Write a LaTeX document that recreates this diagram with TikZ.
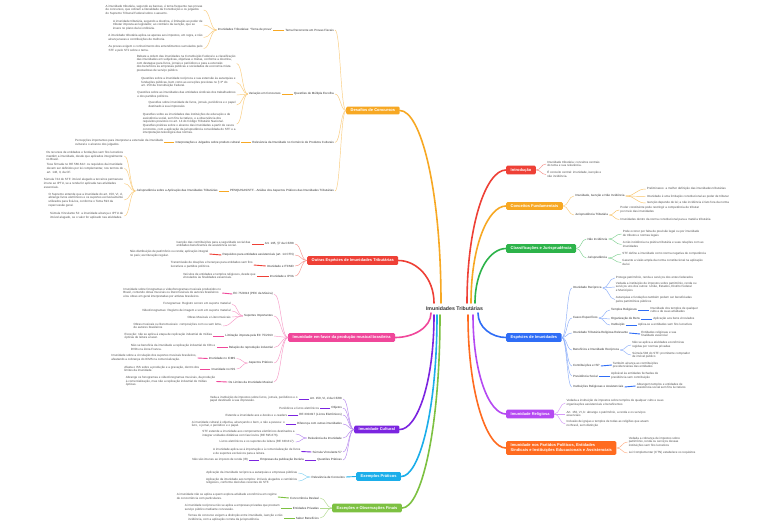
\documentclass[tikz,border=0pt]{standalone}
\usepackage{fontspec}
\setmainfont{Liberation Sans}
\usetikzlibrary{calc}
\definecolor{cR}{HTML}{EE4036}
\definecolor{cO}{HTML}{F7A823}
\definecolor{cG}{HTML}{2DB34A}
\definecolor{cB}{HTML}{2F6DF6}
\definecolor{cP}{HTML}{B549F2}
\definecolor{cV}{HTML}{7B24E0}
\definecolor{cK}{HTML}{F0479A}
\definecolor{cA}{HTML}{FF6B1F}
\definecolor{cC}{HTML}{1BAEEA}
\definecolor{cL}{HTML}{7DC142}
\definecolor{tx}{HTML}{505050}
\definecolor{tx2}{HTML}{333333}
\newcommand\MyL[5]{\node[#1,anchor=east] (#2) at ($(#3.west |- 0,#4)+(-#5,0)$)}
\newcommand\MyR[5]{\node[#1,anchor=west] (#2) at ($(#3.east |- 0,#4)+(#5,0)$)}
\begin{document}
\begin{tikzpicture}[x=1pt,y=-1pt,
 txt/.style={font=\fontsize{3}{3.6}\selectfont, text=tx, inner sep=1pt, align=left},
 lbl/.style={txt, text=tx2},
 box/.style={rounded corners=1.3pt, text=white, font=\bfseries\fontsize{4}{4.8}\selectfont, inner xsep=4.5pt, inner ysep=2.5pt, align=left},
 bracket/.style={to path={.. controls ($(\tikztostart)!0.5!(\tikztostart-|\tikztotarget)$) and ($(\tikztotarget)!0.5!(\tikztotarget-|\tikztostart)$) .. (\tikztotarget)}},
 fan/.style={line width=0.45pt, bracket},
 lnk/.style={line width=0.9pt, bracket},
 mainc/.style={line width=1.6pt, line cap=round, to path={.. controls ($(\tikztostart)!0.6!(\tikztostart|-\tikztotarget)$) and ($(\tikztotarget)!0.5!(\tikztostart|-\tikztotarget)$) .. (\tikztotarget)}}]
\fill[white] (0,0) rectangle (768,528);
\path[use as bounding box] (0,0) rectangle (768,528);

% ---------- centre
\node[font=\bfseries\fontsize{5.2}{6}\selectfont,text=tx2] (root) at (454.5,309) {Imunidades Tributárias};
\coordinate (sDes) at (441,303);
\coordinate (sOes) at (434,303);
\coordinate (sMus) at (431,313);
\coordinate (sCul) at (434,315);
\coordinate (sExe) at (437,315);
\coordinate (sExc) at (440,315);
\coordinate (sInt) at (467,303);
\coordinate (sCon) at (471,303);
\coordinate (sCla) at (475,303);
\coordinate (sEsp) at (478,313);
\coordinate (sPar) at (468,315);
\coordinate (sRel) at (473,315);

% ---------- main boxes
\node[box,fill=cR,anchor=west] (intro) at (506,170) {Introdução};
\node[box,fill=cO,anchor=west] (conc) at (506,206) {Conceitos Fundamentais};
\node[box,fill=cG,anchor=west] (clas) at (506,248.5) {Classificações e Jurisprudência};
\node[box,fill=cB,anchor=west] (esp) at (506,337.5) {Espécies de Imunidades};
\node[box,fill=cP,anchor=west] (rel) at (506,414) {Imunidade Religiosa};
\node[box,fill=cA,anchor=west] (part) at (506,448) {Imunidade nos Partidos Políticos, Entidades\\Sindicais e Instituições Educacionais e Assistenciais};
\node[box,fill=cO,anchor=west] (des) at (346,110.5) {Desafios de Concursos};
\node[box,fill=cR,anchor=west] (oes) at (307,260.5) {Outras Espécies de Imunidades Tributárias};
\node[box,fill=cK,anchor=west] (mus) at (288,337.5) {Imunidade em favor da produção musical brasileira};
\node[box,fill=cV,anchor=west] (cul) at (354,429.5) {Imunidade Cultural};
\node[box,fill=cC,anchor=west] (exe) at (356,476.5) {Exemplos Práticos};
\node[box,fill=cL,anchor=west] (exc) at (332,508) {Exceções e Observações Finais};

\draw[mainc,cO] (sDes) to (des.east);
\draw[mainc,cR] (sOes) to (oes.east);
\draw[mainc,cK] (sMus) to (mus.east);
\draw[mainc,cV] (sCul) to (cul.east);
\draw[mainc,cC] (sExe) to (exe.east);
\draw[mainc,cL] (sExc) to (exc.east);
\draw[mainc,cR] (sInt) to (intro.west);
\draw[mainc,cO] (sCon) to (conc.west);
\draw[mainc,cG] (sCla) to (clas.west);
\draw[mainc,cB] (sEsp) to (esp.west);
\draw[mainc,cA] (sPar) to (part.west);
\draw[mainc,cP] (sRel) to (rel.west);

% ================= RIGHT SIDE =================
% Introducao
\MyR{txt}{i1}{intro}{164}{10}{Imunidade tributária: conceitos centrais\\do tema e sua relevância.};
\MyR{txt}{i2}{intro}{174.5}{10}{É conceito central: imunidade, isenção e\\não incidência.};
\foreach \q in {i1,i2} \draw[fan,cR!60] (intro.east) to[bracket] (\q.west);

% Conceitos
\MyR{lbl}{c1}{conc}{196}{11}{Imunidade, Isenção e Não Incidência};
\MyR{lbl}{c2}{conc}{215}{11}{Jurisprudência Tributária};
\MyR{txt}{c1a}{c1}{189}{20}{Preliminares: a melhor definição das imunidades tributárias};
\MyR{txt}{c1b}{c1}{196.5}{20}{Imunidade é uma limitação constitucional ao poder de tributar};
\MyR{txt}{c1c}{c1}{203}{20}{Isenção depende de lei; a não incidência é fato fora da norma};
\MyR{txt}{c2a}{c2}{210}{10}{Poder constituinte pode restringir a competência de tributar\\por meio das imunidades};
\MyR{txt}{c2b}{c2}{219.5}{10}{Imunidades dentro da norma constitucional para a matéria tributária};
\foreach \q in {c1,c2} \draw[fan,cO!60] (conc.east) to[bracket] (\q.west);
\foreach \q in {c1a,c1b,c1c} \draw[fan,cO!70] (c1.east) to[bracket] (\q.west);
\foreach \q in {c2a,c2b} \draw[fan,cO!70] (c2.east) to[bracket] (\q.west);

% Classificacoes
\MyR{lbl}{k1}{clas}{239}{10}{Não Incidência};
\MyR{lbl}{k2}{clas}{258}{10}{Jurisprudência};
\MyR{txt}{k1a}{k1}{234}{13}{Pode ocorrer por falta de previsão legal ou por imunidade\\de tributos e normas legais};
\MyR{txt}{k1b}{k1}{244.5}{13}{A não incidência na prática tributária e suas relações com as\\imunidades};
\MyR{txt}{k2a}{k2}{254}{13}{STF define a imunidade como norma negativa de competência};
\MyR{txt}{k2b}{k2}{262.5}{13}{Garante a visão ampla da norma constitucional na aplicação\\da lei};
\foreach \q in {k1,k2} \draw[fan,cG!60] (clas.east) to[bracket] (\q.west);
\foreach \q in {k1a,k1b} \draw[fan,cG!60] (k1.east) to[bracket] (\q.west);
\foreach \q in {k2a,k2b} \draw[fan,cG!60] (k2.east) to[bracket] (\q.west);

% Especies
\MyR{lbl}{e1}{esp}{288}{10}{Imunidade Recíproca};
\MyR{lbl}{e2}{esp}{318}{10}{Casos Específicos};
\MyR{lbl}{e3}{esp}{333}{10}{Imunidade Tributária Religiosa Relevante};
\MyR{lbl}{e4}{esp}{350}{10}{Benefícios e Imunidade Recíproca};
\MyR{lbl}{e5}{esp}{366}{10}{Contribuições e ISP};
\MyR{lbl}{e6}{esp}{376}{10}{Previdência Social};
\MyR{lbl}{e7}{esp}{387}{10}{Instituições Religiosas e Assistenciais};
\MyR{txt}{e1a}{e1}{278}{12}{Protege patrimônio, renda e serviços dos entes federados};
\MyR{txt}{e1b}{e1}{287}{12}{Vedada a instituição de impostos sobre patrimônio, renda ou\\serviços uns dos outros: União, Estados, Distrito Federal\\e Municípios};
\MyR{txt}{e1c}{e1}{299.5}{12}{Autarquias e fundações também podem ser beneficiadas\\pelos patrimônios públicos};
\MyR{lbl}{e2a}{e2}{310}{11}{Templos Religiosos};
\MyR{lbl}{e2b}{e2}{319}{11}{Organização de Bens};
\MyR{lbl}{e2c}{e2}{325}{11}{Instituição};
\MyR{txt}{e2at}{e2a}{310}{11}{Imunidade dos templos de qualquer\\culto e de suas atividades};
\MyR{txt}{e2bt}{e2b}{319}{11}{Aplicação aos bens vinculados};
\MyR{txt}{e2ct}{e2c}{325}{11}{Aplica-se a entidades sem fins lucrativos};
\MyR{txt}{e3t}{e3}{334}{11}{Entidades religiosas e sua\\finalidade essencial};
\MyR{txt}{e4a}{e4}{345}{11}{Não se aplica a atividades econômicas\\regidas por normas privadas};
\MyR{txt}{e4b}{e4}{355}{11}{Súmula 583 do STF: promitente comprador\\de imóvel público};
\MyR{txt}{e5t}{e5}{365}{11}{Também alcança as contribuições\\previdenciárias das entidades};
\MyR{txt}{e6t}{e6}{376}{11}{Aplicável às entidades fechadas de\\previdência sem contribuição};
\MyR{txt}{e7t}{e7}{386}{11}{Abrangem templos e entidades de\\assistência social sem fins lucrativos};
\foreach \q in {e1,e2,e3,e4,e5,e6,e7} \draw[fan,cB!55] (esp.east) to[bracket] (\q.west);
\foreach \q in {e1a,e1b,e1c} \draw[fan,cB!55] (e1.east) to[bracket] (\q.west);
\foreach \q in {e2a,e2b,e2c} \draw[fan,cB!55] (e2.east) to[bracket] (\q.west);
\foreach \q in {e4a,e4b} \draw[fan,cB!55] (e4.east) to[bracket] (\q.west);
\draw[lnk,cB] (e2a.east) to[bracket] (e2at.west);
\draw[lnk,cB] (e2b.east) to[bracket] (e2bt.west);
\draw[lnk,cB] (e2c.east) to[bracket] (e2ct.west);
\draw[lnk,cB] (e3.east) to[bracket] (e3t.west);
\draw[lnk,cB] (e5.east) to[bracket] (e5t.west);
\draw[lnk,cB] (e6.east) to[bracket] (e6t.west);
\draw[lnk,cB] (e7.east) to[bracket] (e7t.west);

% Religiosa
\MyR{txt}{r1}{rel}{403}{11}{Vedada a instituição de impostos sobre templos de qualquer culto e suas\\organizações assistenciais e beneficentes};
\MyR{txt}{r2}{rel}{414}{11}{Art. 150, VI, b: abrange o patrimônio, a renda e os serviços\\essenciais};
\MyR{txt}{r3}{rel}{424}{11}{Inclusão de igrejas e templos de todas as religiões que atuam\\no Brasil, sem distinção};
\foreach \q in {r1,r2,r3} \draw[fan,cP!55] (rel.east) to[bracket] (\q.west);

% Partidos
\MyR{txt}{p1}{part}{442}{11}{Vedada a cobrança de impostos sobre\\patrimônio, renda ou serviços dessas\\instituições sem fins lucrativos};
\MyR{txt}{p2}{part}{453}{11}{Lei Complementar (CTN) estabelece os requisitos};
\foreach \q in {p1,p2} \draw[fan,cA!55] (part.east) to[bracket] (\q.west);

% ================= LEFT SIDE =================
% Desafios
\MyL{lbl}{d1}{des}{30}{11}{Tema Recorrente em Provas Fiscais};
\MyL{lbl}{d2}{des}{94}{11}{Questões de Múltipla Escolha};
\MyL{lbl}{d3}{des}{142.5}{11}{Relevância da Imunidade no Comércio de Produtos Culturais};
\MyL{lbl}{d4}{des}{191}{11}{PESQUISAS/STF - Análise dos Aspectos Práticos das Imunidades Tributárias};
\MyL{lbl}{d1a}{d1}{30}{11}{Imunidades Tributárias: “Tema de prova”};
\MyL{txt}{t1}{d1a}{10}{13}{A imunidade tributária, segundo as bancas, é tema frequente nas provas\\de concursos, que cobram a literalidade da Constituição e os julgados\\do Supremo Tribunal Federal sobre o assunto.};
\MyL{txt}{t2}{d1a}{25}{13}{A imunidade tributária, segundo a doutrina, é limitação ao poder de\\tributar imposta ao legislador, ao contrário da isenção, que se\\insere no plano da lei ordinária.};
\MyL{txt}{t3}{d1a}{37.5}{13}{A imunidade tributária aplica-se apenas aos impostos, em regra, e não\\alcança taxas e contribuições de melhoria.};
\MyL{txt}{t4}{d1a}{48.5}{13}{As provas exigem o conhecimento dos entendimentos sumulados pelo\\STF e pelo STJ sobre o tema.};
\MyL{lbl}{d2a}{d2}{94}{11}{Variação em Concursos};
\MyL{txt}{v1}{d2a}{63.5}{11}{Debate a ordem das imunidades na Constituição Federal e a classificação\\das imunidades em subjetivas, objetivas e mistas, conforme a doutrina,\\com destaque para livros, jornais e periódicos e para a extensão\\dos benefícios às empresas públicas e sociedades de economia mista\\prestadoras de serviço público.};
\MyL{txt}{v2}{d2a}{82.5}{11}{Questões sobre a imunidade recíproca e sua extensão às autarquias e\\fundações públicas, bem como as exceções previstas no § 3º do\\art. 150 da Constituição Federal.};
\MyL{txt}{v3}{d2a}{95}{11}{Questões sobre as imunidades das entidades sindicais dos trabalhadores\\e dos partidos políticos.};
\MyL{txt}{v4}{d2a}{105}{11}{Questões sobre imunidade de livros, jornais, periódicos e o papel\\destinado à sua impressão.};
\MyL{txt}{v5}{d2a}{124}{11}{Questões sobre as imunidades das instituições de educação e de\\assistência social, sem fins lucrativos, e a observância dos\\requisitos previstos no art. 14 do Código Tributário Nacional.\\Questões práticas sobre o alcance das imunidades a partir de casos\\concretos, com a aplicação da jurisprudência consolidada do STF e a\\interpretação teleológica das normas.};
\MyL{lbl}{d3a}{d3}{142.5}{10}{Interpretações e Julgados sobre produto cultural};
\MyL{txt}{d3b}{d3a}{142.5}{10}{Percepções importantes para interpretar a extensão da imunidade\\cultural e o alcance dos julgados.};
\MyL{lbl}{d4a}{d4}{191}{10}{Jurisprudência sobre a Aplicação das Imunidades Tributárias};
\MyL{txt}{j1}{d4a}{156}{11}{Os recursos de entidades e fundações sem fins lucrativos\\mantêm a imunidade, desde que aplicados integralmente\\no Brasil.};
\MyL{txt}{j2}{d4a}{168.5}{11}{Tese firmada no RE 566.622: os requisitos da imunidade\\devem ser definidos por lei complementar, nos termos do\\art. 146, II, da CF.};
\MyL{txt}{j3}{d4a}{183.5}{11}{Súmula 724 do STF: imóvel alugado a terceiros permanece\\imune ao IPTU, se a renda for aplicada nas atividades\\essenciais.};
\MyL{txt}{j4}{d4a}{200}{11}{O Supremo entende que a imunidade do art. 150, VI, d,\\abrange livros eletrônicos e os suportes exclusivamente\\utilizados para fixá-los, conforme o Tema 593 da\\repercussão geral.};
\MyL{txt}{j5}{d4a}{216}{11}{Súmula Vinculante 52: a imunidade alcança o IPTU de\\imóvel alugado, se o valor for aplicado nas atividades.};
\foreach \q in {d1,d2,d3,d4} \draw[fan,cO!60] (des.west) to[bracket] (\q.east);
\draw[lnk,cO] (d1.west) to[bracket] (d1a.east);
\draw[lnk,cO] (d2.west) to[bracket] (d2a.east);
\draw[lnk,cO] (d3.west) to[bracket] (d3a.east);
\draw[lnk,cO] (d3a.west) to[bracket] (d3b.east);
\draw[lnk,cO] (d4.west) to[bracket] (d4a.east);
\foreach \q in {t1,t2,t3,t4} \draw[fan,cO!60] (d1a.west) to[bracket] (\q.east);
\foreach \q in {v1,v2,v3,v4,v5} \draw[fan,cO!60] (d2a.west) to[bracket] (\q.east);
\foreach \q in {j1,j2,j3,j4,j5} \draw[fan,cO!60] (d4a.west) to[bracket] (\q.east);

% Outras especies
\MyL{lbl}{o1}{oes}{244}{12}{Art. 195, §7 da CF/88};
\MyL{lbl}{o2}{oes}{255}{12}{Requisitos para entidades assistenciais (art. 14 CTN)};
\MyL{lbl}{o3}{oes}{266}{12}{Imunidade e ITCMD};
\MyL{lbl}{o4}{oes}{276}{12}{Imunidade e IPVA};
\MyL{txt}{o1t}{o1}{244}{12}{Isenção das contribuições para a seguridade social das\\entidades beneficentes de assistência social.};
\MyL{txt}{o2t}{o2}{254}{12}{Não distribuição de patrimônio ou renda; aplicação integral\\no país; escrituração regular.};
\MyL{txt}{o3t}{o3}{265}{12}{Transmissão de doações e heranças para entidades sem fins\\lucrativos e partidos políticos.};
\MyL{txt}{o4t}{o4}{276}{12}{Veículos de entidades e templos religiosos, desde que\\vinculados às finalidades essenciais.};
\foreach \q in {o1,o2,o3,o4} \draw[fan,cR!55] (oes.west) to[bracket] (\q.east);
\foreach \q in {o1,o2,o3,o4} \draw[lnk,cR] (\q.west) to[bracket] (\q t.east);

% Producao musical
\MyL{lbl}{m1}{mus}{294}{14}{EC 75/2013 (PEC da Música)};
\MyL{lbl}{m2}{mus}{316}{14}{Suportes Importantes};
\MyL{lbl}{m3}{mus}{336}{14}{Limitação imposta pela EC 75/2013};
\MyL{lbl}{m4}{mus}{347.5}{14}{Relação de reprodução industrial};
\MyL{lbl}{m5}{mus}{363}{14}{Aspectos Práticos};
\MyL{lbl}{m6}{mus}{382}{14}{Os Limites da Imunidade Musical};
\MyL{txt}{m1t}{m1}{293}{10}{Imunidade sobre fonogramas e videofonogramas musicais produzidos no\\Brasil, contendo obras musicais ou literomusicais de autores brasileiros\\e/ou obras em geral interpretadas por artistas brasileiros.};
\MyL{txt}{m2a}{m2}{304}{11}{Fonogramas: Registro sonoro em suporte material};
\MyL{txt}{m2b}{m2}{311}{11}{Videofonogramas: Registro de imagem e som em suporte material};
\MyL{txt}{m2c}{m2}{317}{11}{Obras Musicais e Literomusicais};
\MyL{txt}{m2d}{m2}{326}{20}{Obras musicais ou literomusicais: composições com ou sem letra,\\de autores brasileiros};
\MyL{txt}{m3t}{m3}{336}{11}{Exceção: não se aplica à etapa de replicação industrial de mídias\\ópticas de leitura a laser.};
\MyL{txt}{m4t}{m4}{347.5}{11}{Não se beneficia da imunidade a replicação industrial de CDs e\\DVDs na Zona Franca.};
\MyL{lbl}{m5a}{m5}{358.5}{11}{Imunidade no ICMS};
\MyL{lbl}{m5b}{m5}{369}{11}{Imunidade no ISS};
\MyL{txt}{m5at}{m5a}{358}{10}{Imunidade sobre a circulação dos suportes musicais brasileiros,\\afastando a cobrança do ICMS na comercialização.};
\MyL{txt}{m5bt}{m5b}{369}{10}{Afasta o ISS sobre a produção e a gravação, dentro dos\\limites da imunidade.};
\MyL{txt}{m6t}{m6}{381.5}{11}{Abrange os fonogramas e videofonogramas musicais, da produção\\à comercialização, mas não a replicação industrial de mídias\\ópticas.};
\foreach \q in {m1,m2,m3,m4,m5,m6} \draw[fan,cK!55] (mus.west) to[bracket] (\q.east);
\foreach \q in {m2a,m2b,m2c,m2d} \draw[fan,cK!55] (m2.west) to[bracket] (\q.east);
\foreach \q in {m5a,m5b} \draw[fan,cK!55] (m5.west) to[bracket] (\q.east);
\foreach \q in {m1,m3,m4,m6,m5a,m5b} \draw[lnk,cK] (\q.west) to[bracket] (\q t.east);

% Imunidade cultural
\MyL{lbl}{u1}{cul}{399}{11}{Art. 150, VI, d da CF/88};
\MyL{lbl}{u2}{cul}{408}{11}{Objetos};
\MyL{lbl}{u3}{cul}{415}{11}{RE 330.817 (Livros Eletrônicos)};
\MyL{lbl}{u4}{cul}{424}{11}{Diferença com outras imunidades};
\MyL{lbl}{u5}{cul}{438}{11}{Relevância da Imunidade};
\MyL{lbl}{u6}{cul}{452}{11}{Súmula Vinculante 57};
\MyL{lbl}{u7}{cul}{460}{11}{Questões Práticas};
\MyL{txt}{u1t}{u1}{399}{10}{Veda a instituição de impostos sobre livros, jornais, periódicos e o\\papel destinado à sua impressão.};
\MyL{txt}{u2t}{u2}{408}{10}{Periódicos e livros eletrônicos};
\MyL{txt}{u3t}{u3}{415}{10}{Estende a imunidade aos e-books e e-readers};
\MyL{txt}{u4t}{u4}{424}{10}{A imunidade cultural é objetiva, alcançando o bem, e não a pessoa: o\\livro, o jornal, o periódico e o papel.};
\MyL{txt}{u5a}{u5}{434}{11}{STF estende a imunidade aos componentes eletrônicos destinados a\\integrar unidades didáticas com fascículos (RE 595.676).};
\MyL{txt}{u5b}{u5}{442}{11}{Livros eletrônicos e os suportes de leitura (RE 330.817).};
\MyL{txt}{u6t}{u6}{451.5}{10}{A imunidade aplica-se à importação e à comercialização de livros\\e de suportes exclusivos para a leitura.};
\MyL{lbl}{u7a}{u7}{460}{11}{Empresas da publicação literária};
\MyL{txt}{u7at}{u7a}{460}{10}{Não são imunes ao imposto de renda (IR)};
\foreach \q in {u1,u2,u3,u4,u5,u6,u7} \draw[fan,cV!55] (cul.west) to[bracket] (\q.east);
\foreach \q in {u5a,u5b} \draw[fan,cV!55] (u5.west) to[bracket] (\q.east);
\foreach \q in {u1,u2,u3,u4,u6,u7a} \draw[lnk,cV] (\q.west) to[bracket] (\q t.east);
\draw[lnk,cV] (u7.west) to[bracket] (u7a.east);

% Exemplos praticos
\MyL{lbl}{x1}{exe}{477}{10}{Relevância de Conceitos};
\MyL{txt}{x1a}{x1}{473}{12}{Aplicação da imunidade recíproca a autarquias e empresas públicas};
\MyL{txt}{x1b}{x1}{481}{12}{Aplicação da imunidade aos templos: imóveis alugados e cemitérios\\religiosos, conforme decisões recentes do STF.};
\draw[lnk,cC] (exe.west) to[bracket] (x1.east);
\foreach \q in {x1a,x1b} \draw[fan,cC!55] (x1.west) to[bracket] (\q.east);

% Excecoes
\MyL{lbl}{z1}{exc}{498}{12}{Concorrência Desleal};
\MyL{lbl}{z2}{exc}{508}{12}{Entidades Privadas};
\MyL{lbl}{z3}{exc}{518}{12}{Saber Benefícios};
\MyL{txt}{z1t}{z1}{497}{11}{A imunidade não se aplica a quem explora atividade econômica em regime\\de concorrência com particulares.};
\MyL{txt}{z2t}{z2}{508}{11}{A imunidade recíproca não se aplica a empresas privadas que prestam\\serviço público mediante concessão.};
\MyL{txt}{z3t}{z3}{518}{11}{Temas de concurso exigem a distinção entre imunidade, isenção e não\\incidência, com a aplicação correta da jurisprudência.};
\foreach \q in {z1,z2,z3} \draw[fan,cL!60] (exc.west) to[bracket] (\q.east);
\foreach \q in {z1,z2,z3} \draw[lnk,cL] (\q.west) to[bracket] (\q t.east);
\end{tikzpicture}
\end{document}
